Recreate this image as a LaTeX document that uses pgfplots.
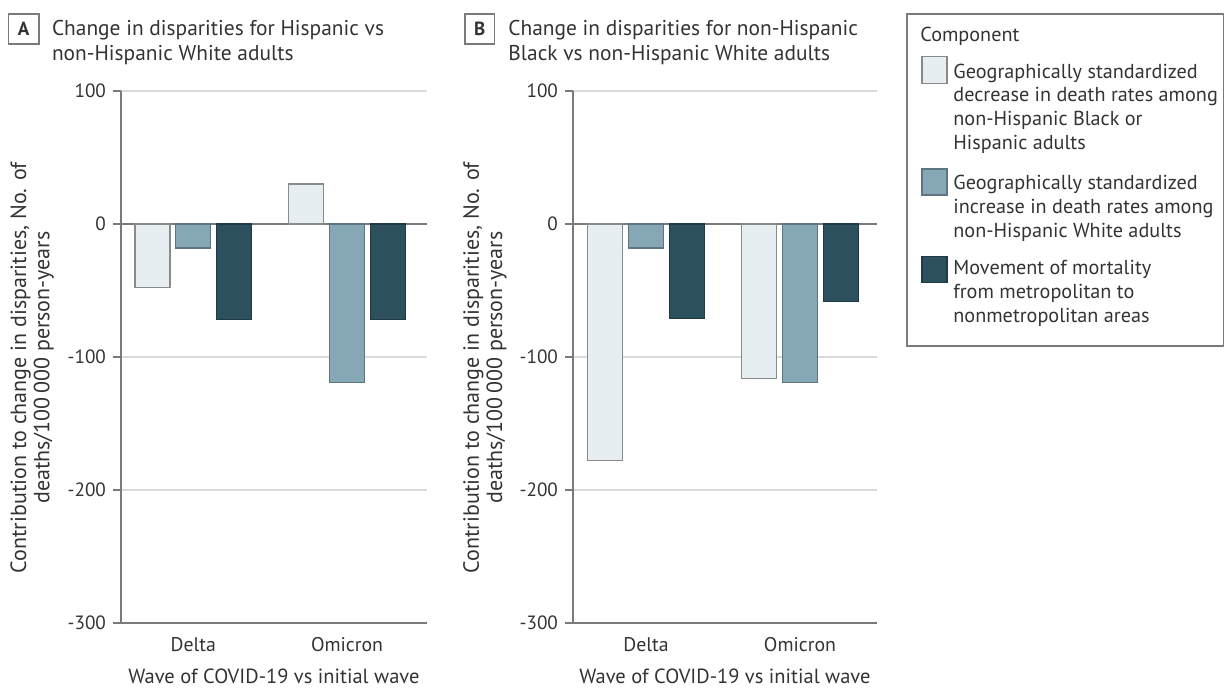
\documentclass[border=0pt]{standalone}
\usepackage{fontspec}
\setmainfont{PT Sans}
\usepackage{pgfplots}
\pgfplotsset{compat=1.18}
\definecolor{lightbar}{HTML}{E7EEF2}
\definecolor{lightedge}{HTML}{8A8A8A}
\definecolor{medbar}{HTML}{86A7B6}
\definecolor{mededge}{HTML}{5E7480}
\definecolor{darkbar}{HTML}{2D505E}
\definecolor{darkedge}{HTML}{1F3A44}
\definecolor{axgray}{HTML}{7A7A7A}
\definecolor{gridgray}{HTML}{DADADA}
\definecolor{txt}{HTML}{333333}

\pgfplotstableread{
x  light  med   dark
0  -48    -18   -72
1   30   -119   -72
}\tabA
\pgfplotstableread{
x  light  med   dark
0  -178   -18   -71
1  -116  -119   -58
}\tabB

\tikzset{
  lightstyle/.style={fill=lightbar, draw=lightedge, line width=0.6pt},
  medstyle/.style={fill=medbar, draw=mededge, line width=0.6pt},
  darkstyle/.style={fill=darkbar, draw=darkedge, line width=0.6pt},
}

\pgfplotsset{
  myaxis/.style={
    scale only axis, height=266pt, anchor=south west,
    ymin=-300, ymax=100,
    ytick={-300,-200,-100,100}, yticklabels={-300,-200,-100,100},
    extra y ticks={0}, extra y tick labels={0},
    extra y tick style={ymajorgrids=true, grid style={draw=axgray, line width=0.7pt}},
    ymajorgrids, grid style={draw=gridgray, line width=0.6pt},
    axis x line*=bottom, axis y line*=left,
    axis line style={draw=axgray, line width=0.7pt},
    tick align=outside, major tick length=4pt,
    ytick style={draw=axgray, line width=0.7pt},
    xtick={0,1}, xticklabels={Delta,Omicron}, xtick style={draw=none},
    ybar=2.85pt, bar width=17.5pt,
    tick label style={font=\fontsize{9.6}{11}\selectfont, text=txt},
    xticklabel style={anchor=base, yshift=-10.5pt, font=\fontsize{9.9}{11}\selectfont},
    xlabel={Wave of COVID-19 vs initial wave},
    xlabel style={font=\fontsize{10.25}{11}\selectfont, text=txt, at={(axis description cs:0.5,0)}, anchor=base, yshift=-30.5pt},
    ylabel={Contribution to change in disparities, No. of\\deaths/100\,000 person-years},
    ylabel style={font=\fontsize{11}{11.6}\selectfont, text=txt, align=center, at={(axis description cs:-0.29,0.48)}, anchor=center},
    clip=false,
  },
}

\begin{document}
\begin{tikzpicture}[x=1pt,y=1pt]
\useasboundingbox (0,0) rectangle (612.5,345);

% Panel A
\begin{axis}[myaxis, width=153pt, at={(60.5pt,33.5pt)}, xmin=-0.47, xmax=1.52]
\addplot[lightstyle] table[x=x,y=light] {\tabA};
\addplot[medstyle] table[x=x,y=med] {\tabA};
\addplot[darkstyle] table[x=x,y=dark] {\tabA};
\end{axis}

% Panel B
\begin{axis}[myaxis, width=152pt, at={(286.5pt,33.5pt)}, xmin=-0.474, xmax=1.5]
\addplot[lightstyle] table[x=x,y=light] {\tabB};
\addplot[medstyle] table[x=x,y=med] {\tabB};
\addplot[darkstyle] table[x=x,y=dark] {\tabB};
\end{axis}

% Titles
\begin{scope}[font=\fontsize{10.7}{12}\selectfont, text=txt]
\draw[axgray, line width=0.6pt] (4.2,323) rectangle (19.5,338);
\node[font=\fontsize{9.5}{11}\selectfont\bfseries] at (11.85,330.5) {A};
\node[anchor=base west, inner sep=0pt] at (25.8,327) {Change in disparities for Hispanic vs};
\node[anchor=base west, inner sep=0pt] at (25.8,314.5) {non-Hispanic White adults};

\draw[axgray, line width=0.6pt] (232.5,323) rectangle (247.2,338);
\node[font=\fontsize{9.5}{11}\selectfont\bfseries] at (239.85,330.5) {B};
\node[anchor=base west, inner sep=0pt] at (254,327) {Change in disparities for non-Hispanic};
\node[anchor=base west, inner sep=0pt] at (254,314.5) {Black vs non-Hispanic White adults};
\end{scope}

% Legend
\begin{scope}[font=\fontsize{10.1}{12}\selectfont, text=txt]
\draw[axgray, line width=0.6pt] (453.5,172) rectangle (611.75,338);
\node[anchor=base west, inner sep=0pt] at (460,324.25) {Component};
\draw[lightstyle] (461,303.35) rectangle (473.5,316.65);
\draw[medstyle] (461,247.5) rectangle (473.5,260.5);
\draw[darkstyle] (461,203.65) rectangle (473.5,216.65);
\node[anchor=base west, inner sep=0pt] at (476.5,305.85) {Geographically standardized};
\node[anchor=base west, inner sep=0pt] at (476.5,294) {decrease in death rates among};
\node[anchor=base west, inner sep=0pt] at (476.5,282.15) {non-Hispanic Black or};
\node[anchor=base west, inner sep=0pt] at (476.5,270.3) {Hispanic adults};
\node[anchor=base west, inner sep=0pt] at (476.5,250) {Geographically standardized};
\node[anchor=base west, inner sep=0pt] at (476.5,238.15) {increase in death rates among};
\node[anchor=base west, inner sep=0pt] at (476.5,226.3) {non-Hispanic White adults};
\node[anchor=base west, inner sep=0pt] at (476.5,207.5) {Movement of mortality};
\node[anchor=base west, inner sep=0pt] at (476.5,195.65) {from metropolitan to};
\node[anchor=base west, inner sep=0pt] at (476.5,183.8) {nonmetropolitan areas};
\end{scope}
\end{tikzpicture}
\end{document}
